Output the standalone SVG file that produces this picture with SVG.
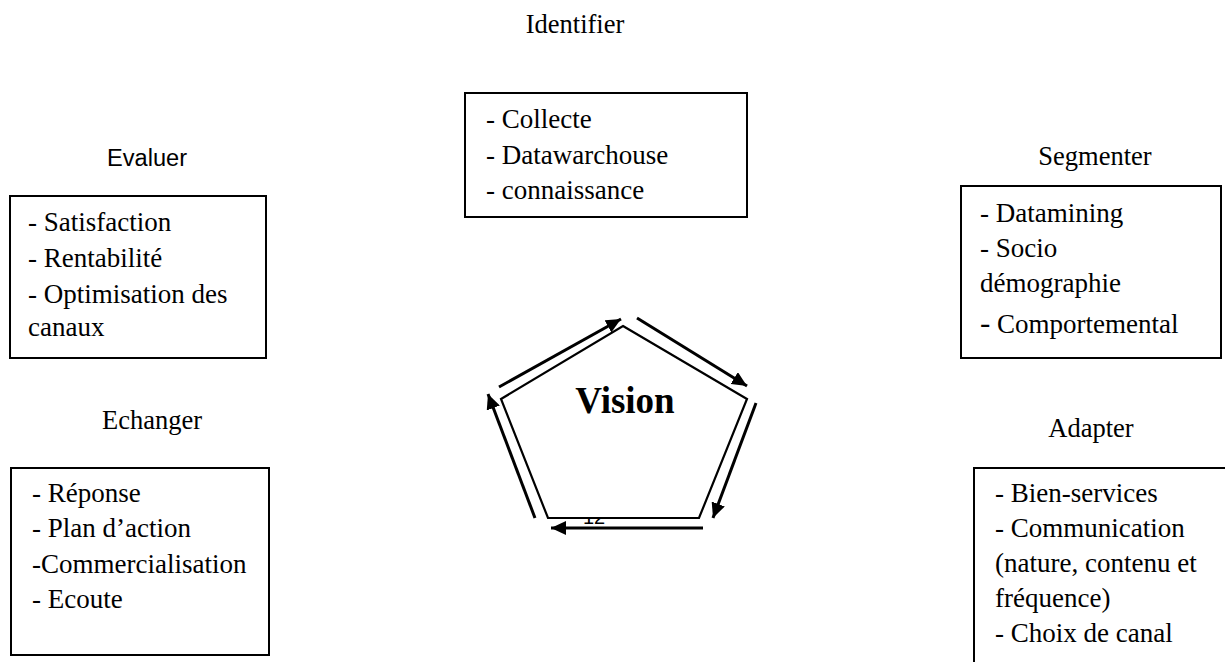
<svg xmlns="http://www.w3.org/2000/svg" width="1225" height="662" viewBox="0 0 1225 662">
  <style>
    .box { fill: #fff; stroke: #000; stroke-width: 2; }
    .t { font-family: "Liberation Serif", "Times New Roman", serif; font-size: 27px; fill: #000; }
    .lbl { font-family: "Liberation Serif", "Times New Roman", serif; font-size: 26.5px; fill: #000; text-anchor: middle; }
    .lbl-sans { font-family: "Liberation Sans", Arial, sans-serif; font-size: 23.5px; fill: #000; }
    .arrow { stroke: #000; stroke-width: 3; fill: none; marker-end: url(#head); }
  </style>
  <defs>
    <marker id="head" markerUnits="userSpaceOnUse" markerWidth="16" markerHeight="14" refX="15" refY="7" orient="auto">
      <polygon points="0,0 15,7 0,14" fill="#000"/>
    </marker>
  </defs>
  <rect width="1225" height="662" fill="#fff"/>

  <!-- Identifier -->
  <g id="identifier">
    <text class="lbl" x="575" y="33">Identifier</text>
    <rect class="box" x="465" y="93" width="282" height="124"/>
    <text class="t" x="486" y="128">- Collecte</text>
    <text class="t" x="486" y="164">- Datawarchouse</text>
    <text class="t" x="486" y="199">- connaissance</text>
  </g>

  <!-- Evaluer -->
  <g id="evaluer">
    <text class="lbl-sans" x="107" y="166" textLength="80" lengthAdjust="spacingAndGlyphs">Evaluer</text>
    <rect class="box" x="10" y="196" width="256" height="162"/>
    <text class="t" x="28" y="231">- Satisfaction</text>
    <text class="t" x="28" y="267">- Rentabilité</text>
    <text class="t" x="28" y="303">- Optimisation des</text>
    <text class="t" x="28" y="336">canaux</text>
  </g>

  <!-- Segmenter -->
  <g id="segmenter">
    <text class="lbl" x="1095" y="165">Segmenter</text>
    <rect class="box" x="961" y="186" width="260" height="172"/>
    <text class="t" x="980" y="222">- Datamining</text>
    <text class="t" x="980" y="257">- Socio</text>
    <text class="t" x="980" y="292">démographie</text>
    <text class="t" x="980" y="333"><tspan font-size="31">-</tspan> Comportemental</text>
  </g>

  <!-- Echanger -->
  <g id="echanger">
    <text class="lbl" x="152" y="429">Echanger</text>
    <rect class="box" x="11" y="468" width="258" height="187"/>
    <text class="t" x="32" y="502">- Réponse</text>
    <text class="t" x="32" y="537">- Plan d’action</text>
    <text class="t" x="32" y="573">-Commercialisation</text>
    <text class="t" x="32" y="608">- Ecoute</text>
  </g>

  <!-- Adapter -->
  <g id="adapter">
    <text class="lbl" x="1091" y="437">Adapter</text>
    <rect class="box" x="974" y="468" width="270" height="210"/>
    <text class="t" x="995" y="502">- Bien-services</text>
    <text class="t" x="995" y="537">- Communication</text>
    <text class="t" x="995" y="572">(nature, contenu et</text>
    <text class="t" x="995" y="607">fréquence)</text>
    <text class="t" x="995" y="642">- Choix de canal</text>
  </g>

  <!-- Vision (centre pentagon; page number sits partly behind it) -->
  <g id="vision">
    <text x="583" y="524" font-family="Liberation Sans, Arial, sans-serif" font-size="20" fill="#000">12</text>
    <polygon points="623,326 747,399 699,518 548,518 501,399" fill="#fff" stroke="#000" stroke-width="2.2"/>
    <text x="625" y="413" text-anchor="middle" font-family="Liberation Serif, Times New Roman, serif" font-size="37" font-weight="bold" fill="#000">Vision</text>
  </g>

  <!-- Cycle arrows around the pentagon -->
  <g id="connectors">
    <line class="arrow" x1="499" y1="387" x2="621" y2="319"/>
    <line class="arrow" x1="637" y1="318" x2="747" y2="386"/>
    <line class="arrow" x1="756" y1="403" x2="713" y2="518"/>
    <line class="arrow" x1="703" y1="528" x2="551" y2="528"/>
    <line class="arrow" x1="535" y1="518" x2="488" y2="394"/>
  </g>
</svg>
